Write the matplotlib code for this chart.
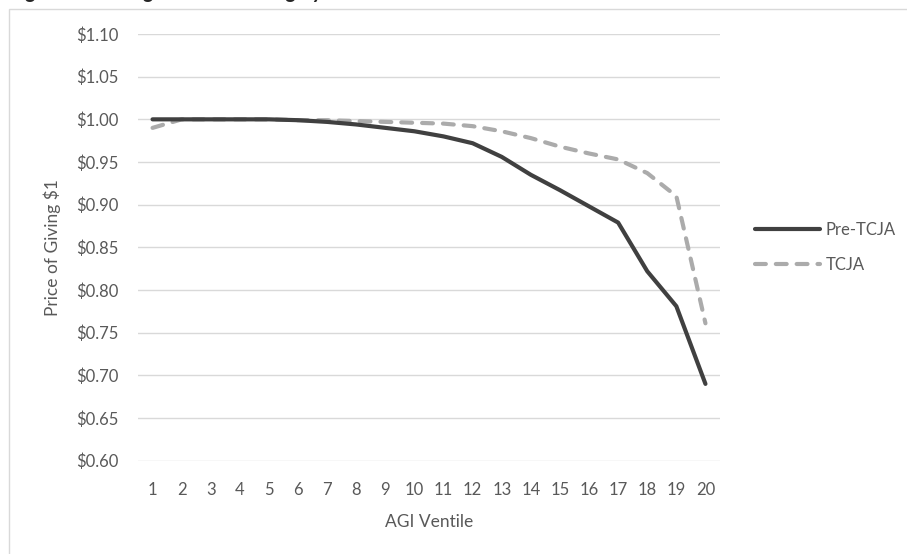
import matplotlib
matplotlib.use("Agg")
import matplotlib.pyplot as plt
from matplotlib.patches import Rectangle

# AGI ventiles and price of giving $1
ventiles = list(range(1, 21))
pre_tcja = [1.000, 1.000, 1.000, 1.000, 1.000, 0.999, 0.997, 0.994, 0.990, 0.986,
            0.980, 0.972, 0.956, 0.935, 0.917, 0.898, 0.879, 0.822, 0.781, 0.690]
tcja = [0.990, 1.000, 1.000, 1.000, 1.000, 0.999, 0.999, 0.998, 0.997, 0.996,
        0.995, 0.992, 0.986, 0.978, 0.968, 0.960, 0.953, 0.937, 0.910, 0.761]
yticks = [0.60, 0.65, 0.70, 0.75, 0.80, 0.85, 0.90, 0.95, 1.00, 1.05, 1.10]

plt.rcParams['font.family'] = ['Lato', 'DejaVu Sans']
txt = '#595959'

W, H = 907, 554
fig = plt.figure(figsize=(W / 100, H / 100), dpi=100)
ax = fig.add_axes([138 / W, 1 - 460.7 / H, (720 - 138) / W, (460.7 - 34) / H])

ax.plot(ventiles, pre_tcja, color='#404040', lw=3, solid_capstyle='round',
        solid_joinstyle='round', label='Pre-TCJA', zorder=3)
ax.plot(ventiles, tcja, color='#ababab', lw=3, dashes=(2.6, 2.4), dash_capstyle='round',
        label='TCJA', zorder=2)

ax.set_xlim(0.5, 20.5)
ax.set_ylim(0.60, 1.10)
ax.set_xticks(ventiles)
ax.set_yticks(yticks)
ax.set_yticklabels(['${:.2f}'.format(v) for v in yticks])
ax.tick_params(length=0, labelsize=12, colors=txt)
ax.tick_params(axis='x', pad=15)
ax.tick_params(axis='y', pad=14)
ax.grid(axis='y', color='#d9d9d9', lw=1)
ax.set_axisbelow(True)
for s in ax.spines.values():
    s.set_visible(False)

ax.set_ylabel('Price of Giving $1', fontsize=12.5, color=txt, labelpad=11)
ax.set_xlabel('AGI Ventile', fontsize=12.5, color=txt, labelpad=12)

ax.legend(loc='center left', bbox_to_anchor=(1.035, 0.5), frameon=False,
          fontsize=12, labelcolor=txt, handlelength=3.9, handletextpad=0.3,
          labelspacing=1.15)

# chart frame (runs off the right and bottom edges)
fig.patches.append(Rectangle((8.5 / W, -0.1), 1.0, (H - 9.5) / H + 0.1,
                             transform=fig.transFigure, fill=False,
                             edgecolor='#d9d9d9', lw=1))

# title, mostly cut off at the top of the picture
fig.text(10 / W, 1 + 2.5 / H, 'Figure 4. Average Price of Giving by AGI Ventile',
         fontsize=15, fontweight='bold', fontstyle='italic', color='#262626',
         va='baseline', ha='left')

fig.savefig('out.png', dpi=100)
